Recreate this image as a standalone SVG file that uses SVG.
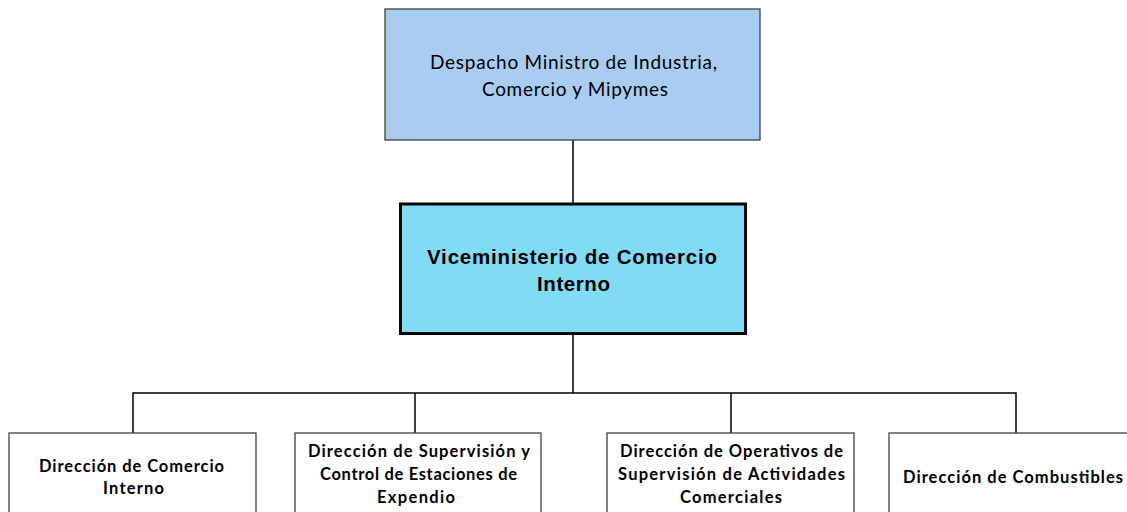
<svg xmlns="http://www.w3.org/2000/svg" width="1127" height="512" viewBox="0 0 1127 512">
<style>
.conn{stroke:#000;stroke-width:1.5;fill:none}
.box{fill:#fff;stroke:#404040;stroke-width:1.3}
.lbl{font-family:"Lato","Open Sans",sans-serif;font-weight:bold;font-size:16.5px;fill:#000;text-anchor:middle}
.top{font-family:"Lato","Open Sans",sans-serif;font-size:19px;fill:#000;text-anchor:middle}
.vice{font-family:"Liberation Sans",Arial,sans-serif;font-weight:bold;font-size:20.5px;fill:#000;text-anchor:middle}
</style>
<rect width="1127" height="512" fill="#fff"/>
<g id="connectors">
<line class="conn" x1="573" y1="140" x2="573" y2="204"/>
<line class="conn" x1="573" y1="334" x2="573" y2="393"/>
<polyline class="conn" points="133,433 133,393 1016,393 1016,433"/>
<line class="conn" x1="415" y1="393" x2="415" y2="433"/>
<line class="conn" x1="731" y1="393" x2="731" y2="433"/>
</g>
<g id="despacho">
<rect x="385" y="9" width="375" height="131" fill="#a9cdf0" stroke="#404040" stroke-width="1.3"/>
<text class="top" x="573.5" y="69" textLength="287" lengthAdjust="spacing">Despacho Ministro de Industria,</text>
<text class="top" x="575" y="96" textLength="186" lengthAdjust="spacing">Comercio y Mipymes</text>
</g>
<g id="viceministerio">
<rect x="400.5" y="204" width="345" height="129.5" fill="#80dbf4" stroke="#000" stroke-width="3"/>
<text class="vice" x="572" y="264" textLength="290" lengthAdjust="spacing">Viceministerio de Comercio</text>
<text class="vice" x="573.5" y="291" textLength="73" lengthAdjust="spacing">Interno</text>
</g>
<g id="dir-comercio-interno">
<rect class="box" x="9" y="433" width="247" height="100"/>
<text class="lbl" x="131.5" y="472" textLength="185" lengthAdjust="spacing">Dirección de Comercio</text>
<text class="lbl" x="133.5" y="494" textLength="61" lengthAdjust="spacing">Interno</text>
</g>
<g id="dir-supervision-estaciones">
<rect class="box" x="295" y="433" width="246" height="100"/>
<text class="lbl" x="419" y="457" textLength="222" lengthAdjust="spacing">Dirección de Supervisión y</text>
<text class="lbl" x="418.5" y="480" textLength="197" lengthAdjust="spacing">Control de Estaciones de</text>
<text class="lbl" x="416" y="503" textLength="78" lengthAdjust="spacing">Expendio</text>
</g>
<g id="dir-operativos">
<rect class="box" x="607" y="433" width="247" height="100"/>
<text class="lbl" x="731.5" y="457" textLength="223" lengthAdjust="spacing">Dirección de Operativos de</text>
<text class="lbl" x="731.5" y="480" textLength="227" lengthAdjust="spacing">Supervisión de Actividades</text>
<text class="lbl" x="731" y="503" textLength="102" lengthAdjust="spacing">Comerciales</text>
</g>
<g id="dir-combustibles">
<rect class="box" x="889" y="433" width="247" height="100"/>
<text class="lbl" x="1013" y="483" textLength="220" lengthAdjust="spacing">Dirección de Combustibles</text>
</g>
</svg>
